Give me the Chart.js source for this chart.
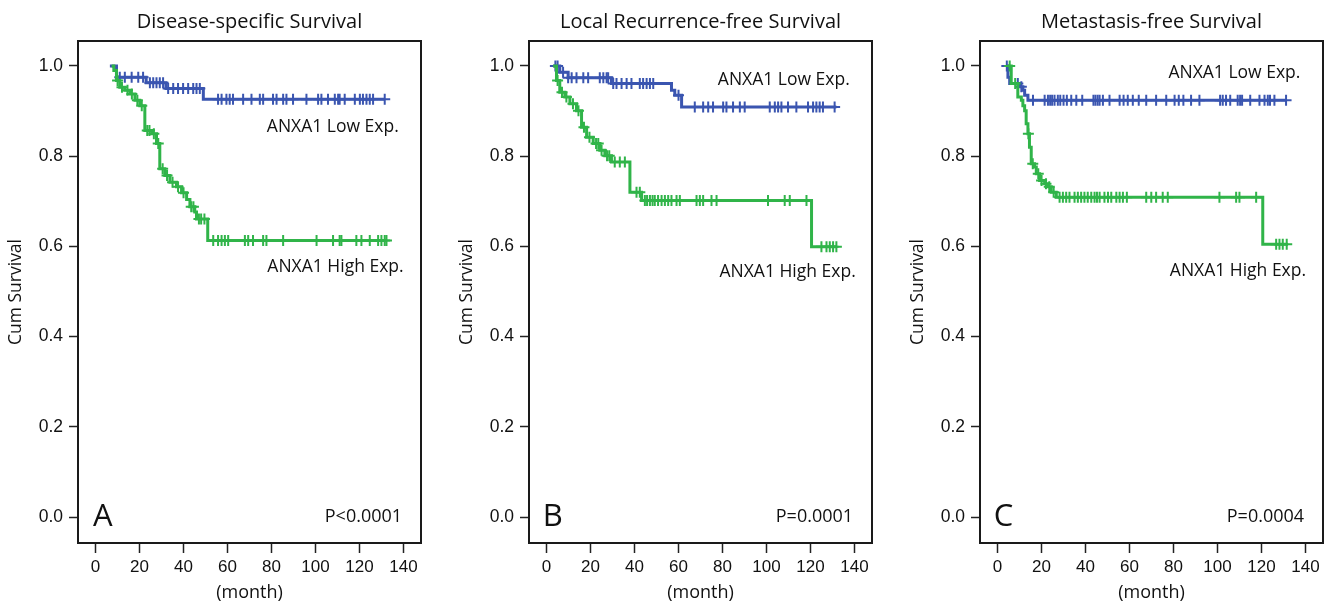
<!DOCTYPE html>
<html>
<head>
<meta charset="utf-8">
<script src="https://cdn.jsdelivr.net/npm/chart.js@4.4.1/dist/chart.umd.min.js"></script>
<style>
  body { margin: 0; background: #fff; width: 1338px; height: 606px; position: relative; overflow: hidden; }
  canvas { position: absolute; top: 0; }
</style>
</head>
<body>
<canvas id="cA" width="436" height="606" style="left:0px"></canvas>
<canvas id="cB" width="436" height="606" style="left:451px"></canvas>
<canvas id="cC" width="436" height="606" style="left:902px"></canvas>
<script>
const titles = ["Disease-specific Survival", "Local Recurrence-free Survival", "Metastasis-free Survival"];
const panelLetters = ["A", "B", "C"];
const pValues = ["P<0.0001", "P=0.0001", "P=0.0004"];
const lowLabel = "ANXA1 Low Exp.";
const highLabel = "ANXA1 High Exp.";
const xTitle = "(month)";
const yTitle = "Cum Survival";

// A - disease-specific survival (step times in months, survival after the step, censor times)
const dssLowTime = [6.5, 9.5, 23, 32, 49, 131.5];
const dssLowSurv = [1.0, 0.975, 0.963, 0.950, 0.926, 0.926];
const dssLowCens = [11, 13.3, 16.4, 19.4, 21.6, 24.7, 26.2, 27.7, 29.2, 30.7, 33, 35.3, 37.5, 39.8, 42.1, 44.4, 45.9, 47.4,
  55.7, 57.3, 59.5, 61, 62.5, 67.1, 70.9, 74.7, 76.2, 80.7, 82.3, 85.3, 86.8, 89.8, 95.9, 101.2, 102.7, 105.7, 108.8,
  110.3, 111, 113.3, 117.9, 120.2, 121.6, 123.2, 124.7, 126.2, 131.5];
const dssHighTime = [7.3, 8.3, 9.5, 11, 13.3, 15.6, 17.9, 20.1, 22.4, 25.5, 27.7, 29.2, 31.5, 33.8, 36.8, 39.1, 41.4, 42.9, 45.1, 45.9, 51, 132.3];
const dssHighSurv = [1.0, 0.99, 0.968, 0.953, 0.946, 0.938, 0.924, 0.912, 0.857, 0.85, 0.828, 0.772, 0.757, 0.742, 0.732, 0.719, 0.704, 0.688, 0.676, 0.661, 0.613, 0.613];
const dssHighCens = [10, 12, 14.5, 16.5, 19, 21, 23.5, 24.5, 26.5, 28.5, 30.5, 32.5, 35, 37.5, 40, 43.5, 44.5, 47, 48, 49.5,
  53.5, 55.7, 57.3, 58.8, 60.3, 67.9, 69.4, 71.6, 76.2, 77.7, 85.3, 100.5, 108, 111, 111.8, 118.6, 120.9, 124.7, 128.5,
  130, 131.5, 132.3];

// B - local recurrence-free survival
const lrfsLowTime = [3, 6, 9.8, 29.5, 56.8, 58.3, 61.4, 131.8];
const lrfsLowSurv = [1.0, 0.986, 0.974, 0.961, 0.946, 0.935, 0.909, 0.909];
const lrfsLowCens = [4, 5, 7.5, 9.8, 11.4, 13.6, 16.7, 18.9, 24.2, 25.8, 27.3, 28, 30.3, 31.8, 34.1, 36.4, 38.6, 42.4,
  43.9, 45.5, 47, 48.5, 60, 67.4, 71.2, 73.5, 75.7, 80.3, 81.8, 84.8, 87.9, 90.1, 101.5, 103.8, 105.3, 106.8, 109.8,
  113.6, 118.9, 121.2, 122.7, 124.2, 125.7, 131];
const lrfsHighTime = [3, 4.5, 6, 8.3, 10.6, 13.6, 15.9, 18.2, 21.2, 24.2, 26.5, 29.5, 37.9, 43.2, 120.5, 131.8];
const lrfsHighSurv = [1.0, 0.968, 0.942, 0.931, 0.916, 0.901, 0.864, 0.842, 0.828, 0.813, 0.801, 0.787, 0.72, 0.702, 0.599, 0.599];
const lrfsHighCens = [5, 7, 9, 12, 14.5, 17, 19.5, 22.5, 23.5, 25, 27.5, 28.5, 31, 33.3, 35.6, 40.9, 42.4, 44.7, 45.7,
  47, 48.2, 49.2, 50.7, 52.3, 53.8, 55.3, 56.8, 59.1, 60.6, 68.2, 69.7, 71.2, 75, 77.3, 100.7, 108.3, 110.6, 118.2,
  125, 127.3, 128.8, 130.3, 131.8];

// C - metastasis-free survival
const mfsLowTime = [3.9, 4.7, 5.5, 10, 11.5, 12.3, 13.8, 131.2];
const mfsLowSurv = [1.0, 0.975, 0.961, 0.954, 0.946, 0.935, 0.924, 0.924];
const mfsLowCens = [4.2, 9.2, 10.8, 16.1, 21.4, 22.9, 23.9, 24.8, 25.9, 27.4, 28.5, 30, 31.5, 33.5, 35.8, 38.5, 43.6,
  44.5, 45.5, 46.4, 47.9, 50.9, 55.5, 57.3, 59.2, 61.5, 64.2, 67.6, 72.1, 76.7, 80.5, 82.4, 84.5, 88, 91.8, 101.2,
  102.4, 103.9, 105.8, 109.2, 110.3, 111.2, 114.9, 119.1, 121.4, 122.9, 123.9, 125.9, 131.2];
const mfsHighTime = [4.7, 6.2, 9.2, 10.8, 11.5, 12.3, 13, 13.8, 14.5, 15.3, 16.8, 17.6, 19.1, 21.4, 22.9, 24.4, 26.7, 120.6, 132];
const mfsHighSurv = [1.0, 0.961, 0.931, 0.924, 0.912, 0.901, 0.872, 0.85, 0.82, 0.783, 0.776, 0.761, 0.746, 0.739, 0.732, 0.72, 0.709, 0.605, 0.605];
const mfsHighCens = [5.5, 8, 14, 16, 18.5, 20, 22, 23.5, 25.5, 28.2, 29.7, 31.2, 32.7, 35, 36.5, 38, 39.5, 41, 42.6,
  44.1, 45.2, 46.4, 48.6, 50.2, 51.7, 54, 55.5, 57, 58.8, 67.6, 69.9, 72.1, 75.1, 77.4, 100.9, 108.5, 110, 117.6,
  126.7, 128.2, 129.7, 131.5];

const blue = "#3a55b0";
const green = "#30b449";
const font = "Open Sans";
const tickFont = "Liberation Sans";

// survival value of the step curve at time t
function survAt(times, surv, t) {
  let s = surv[0];
  for (let i = 0; i < times.length; i++) {
    if (times[i] <= t) s = surv[i];
  }
  return s;
}

function curve(times, surv) {
  return times.map((t, i) => ({x: t, y: surv[i]}));
}

function censors(times, surv, cens) {
  return cens.map(t => ({x: t, y: survAt(times, surv, t)}));
}

const frameText = {
  id: "frameText",
  afterDraw(chart, args, opts) {
    const {ctx, chartArea: a, scales: {x, y}} = chart;
    ctx.save();
    ctx.strokeStyle = "#1a1a1a";
    ctx.lineWidth = 2;
    ctx.strokeRect(a.left, a.top, a.right - a.left, a.bottom - a.top);
    ctx.fillStyle = "#111";
    ctx.textBaseline = "middle";
    for (const t of opts.texts) {
      ctx.font = t.size + 'px "' + font + '"';
      ctx.textAlign = t.align;
      ctx.fillText(t.text, x.getPixelForValue(t.x), y.getPixelForValue(t.y));
    }
    ctx.restore();
  }
};

function makeChart(id, idx, lowT, lowS, lowC, highT, highS, highC, labelPos) {
  new Chart(document.getElementById(id), {
    type: "line",
    data: {
      datasets: [
        {data: curve(highT, highS), borderColor: green, borderWidth: 3, stepped: true, pointRadius: 0, fill: false},
        {type: "scatter", data: censors(highT, highS, highC), pointStyle: "cross", pointRadius: 5.5,
          borderColor: green, backgroundColor: green, borderWidth: 2, showLine: false},
        {data: curve(lowT, lowS), borderColor: blue, borderWidth: 3, stepped: true, pointRadius: 0, fill: false},
        {type: "scatter", data: censors(lowT, lowS, lowC), pointStyle: "cross", pointRadius: 5.5,
          borderColor: blue, backgroundColor: blue, borderWidth: 2, showLine: false}
      ]
    },
    options: {
      responsive: false,
      animation: false,
      devicePixelRatio: 1,
      layout: {padding: {left: 0, right: 15, top: 0, bottom: 0}},
      plugins: {
        legend: {display: false},
        tooltip: {enabled: false},
        title: {
          display: true, text: titles[idx], fullSize: false, color: "#111",
          font: {family: font, size: 20, weight: "normal"},
          padding: {top: 10, bottom: 7}
        },
        frameText: {
          texts: [
            {text: lowLabel, x: labelPos.low[0], y: labelPos.low[1], align: "right", size: 17.5},
            {text: highLabel, x: labelPos.high[0], y: labelPos.high[1], align: "right", size: 17.5},
            {text: panelLetters[idx], x: labelPos.letter, y: 0, align: "left", size: 31},
            {text: pValues[idx], x: 139.4, y: 0, align: "right", size: 18}
          ]
        }
      },
      scales: {
        x: {
          type: "linear", min: -8, max: 148,
          ticks: {stepSize: 20, includeBounds: false, maxRotation: 0, color: "#111", padding: 4,
            font: {family: tickFont, size: 17}},
          grid: {drawOnChartArea: false, drawTicks: true, tickLength: 10, tickWidth: 1.5, tickColor: "#222"},
          border: {display: false},
          title: {display: true, text: xTitle, color: "#111", font: {family: font, size: 18},
            padding: {top: 0, bottom: 2}},
          afterFit(s) { s.height = 63; }
        },
        y: {
          type: "linear", min: -0.0576, max: 1.0554,
          ticks: {stepSize: 0.2, includeBounds: false, color: "#111", padding: 6,
            font: {family: tickFont, size: 17.5}, callback: v => v.toFixed(1)},
          grid: {drawOnChartArea: false, drawTicks: true, tickLength: 9, tickWidth: 1.5, tickColor: "#222"},
          border: {display: false},
          title: {display: true, text: yTitle, color: "#111", font: {family: font, size: 17.5},
            padding: {top: 6, bottom: 0}},
          afterFit(s) { s.width = 78; }
        }
      }
    },
    plugins: [frameText]
  });
}

makeChart("cA", 0, dssLowTime, dssLowSurv, dssLowCens, dssHighTime, dssHighSurv, dssHighCens,
  {low: [137.9, 0.864], high: [140.1, 0.554], letter: -1.2});
makeChart("cB", 1, lrfsLowTime, lrfsLowSurv, lrfsLowCens, lrfsHighTime, lrfsHighSurv, lrfsHighCens,
  {low: [137.9, 0.970], high: [140.6, 0.543], letter: -1.8});
makeChart("cC", 2, mfsLowTime, mfsLowSurv, mfsLowCens, mfsHighTime, mfsHighSurv, mfsHighCens,
  {low: [137.7, 0.984], high: [140.3, 0.545], letter: -1.8});
</script>
</body>
</html>
